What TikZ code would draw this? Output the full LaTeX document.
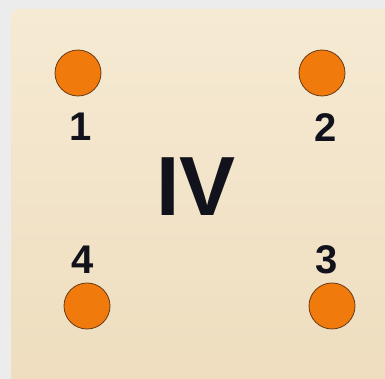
\documentclass[tikz,border=0pt]{standalone}
\usepackage{fontspec}
\setmainfont{Liberation Sans}
\usepackage{xcolor}
\usetikzlibrary{positioning}
\definecolor{tile_light}{RGB}{246,234,211}
\definecolor{tile_sand}{RGB}{238,221,190}
\definecolor{frame_grey}{RGB}{236,236,236}
\definecolor{peg_orange}{RGB}{240,122,12}
\definecolor{peg_rim}{RGB}{105,58,22}
\definecolor{ink_dark}{RGB}{18,18,28}

\tikzset{
  peg/.style={circle, minimum size=46pt, inner sep=0pt, fill=peg_orange,
    draw=peg_rim, line width=0.8pt},
  pegnum/.style={font=\bfseries\fontsize{40}{40}\selectfont, text=ink_dark,
    inner sep=0pt}
}

\begin{document}
\begin{tikzpicture}[x=1pt, y=1pt]
        % grey frame and wooden tile
        \useasboundingbox (0,0) rectangle (385,379);
        \clip (0,0) rectangle (385,379);
        \fill[frame_grey] (0,0) rectangle (385,379);
        \shade[top color=tile_light, bottom color=tile_sand, rounded corners=8pt]
          (11,-20) rectangle (400,370);
        % pegs
        \node[peg] (peg1) at (78,306) {};
        \node[peg] (peg2) at (322,306) {};
        \node[peg] (peg3) at (332,73) {};
        \node[peg] (peg4) at (87,73) {};
        \node[pegnum] (num1) at (81,252) {1};
        \node[pegnum] (num2) at (326,251) {2};
        \node[pegnum] (num3) at (327,119) {3};
        \node[pegnum] (num4) at (83,119) {4};
        \node[font=\bfseries\fontsize{84}{84}\selectfont, text=ink_dark,
          inner sep=0pt] (tilename) at (196,192) {IV};
      \end{tikzpicture}
\end{document}
